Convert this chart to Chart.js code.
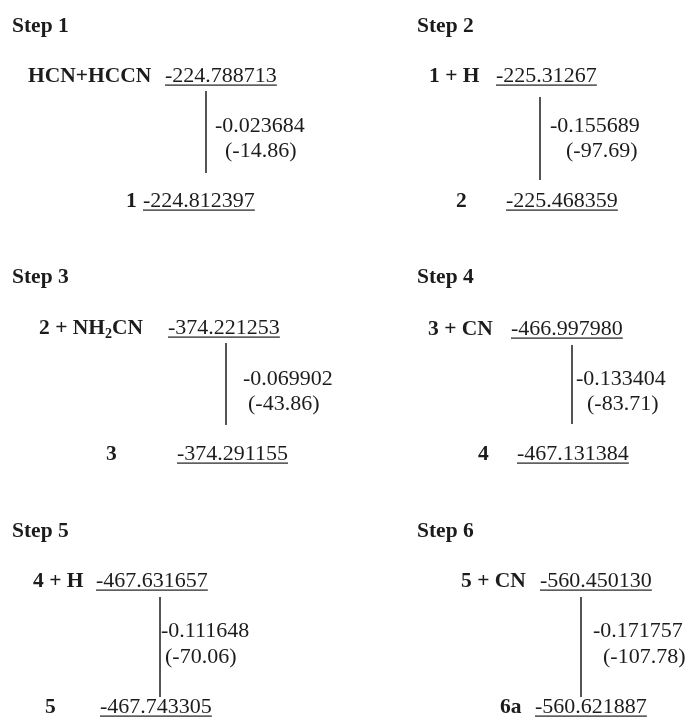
<!DOCTYPE html>
<html>
<head>
<meta charset="utf-8">
<script src="https://cdn.jsdelivr.net/npm/chart.js@4/dist/chart.umd.min.js"></script>
<style>
  html, body { margin: 0; padding: 0; background: #fff; }
  #wrap { position: relative; width: 687px; height: 717px; }
  canvas { display: block; }
</style>
</head>
<body>
<div id="wrap"><canvas id="c" width="687" height="717"></canvas></div>
<script>
// Reaction steps: total energies (hartree) before and after each step
const stepTitles = ['Step 1', 'Step 2', 'Step 3', 'Step 4', 'Step 5', 'Step 6'];
const reactantLabels = ['HCN+HCCN', '1 + H', '2 + NH_2CN', '3 + CN', '4 + H', '5 + CN'];
const productLabels = ['1', '2', '3', '4', '5', '6a'];
const reactantEnergy = [-224.788713, -225.31267, -374.221253, -466.997980, -467.631657, -560.450130];
const productEnergy = [-224.812397, -225.468359, -374.291155, -467.131384, -467.743305, -560.621887];
const reactantDecimals = [6, 5, 6, 6, 6, 6];
const productDecimals = [6, 6, 6, 6, 6, 6];
// reaction energies in kcal/mol
const deltaKcal = [-14.86, -97.69, -43.86, -83.71, -70.06, -107.78];

// Page layout (canvas pixels)
const W = 687, H = 717;
const titleX = [12, 417, 12, 417, 12, 417];
const titleY = [32, 32, 283, 283, 537, 537];
const reactLabelX = [28, 429, 39, 428, 33, 461];
const reactY = [82, 82, 334, 335, 587, 587];
const reactEnergyX = [165, 496, 168, 511, 96, 540];
const lineX = [206, 540, 226, 572, 160, 581];
const lineTop = [91, 97, 343, 345, 597, 597];
const lineBottom = [173, 180, 425, 424, 697, 697];
const deltaX = [215, 550, 243, 576, 161, 593];
const deltaY = [132, 132, 385, 385, 637, 637];
const kcalX = [225, 566, 248, 587, 165, 603];
const kcalY = [157, 157, 410, 410, 663, 663];
const prodLabelX = [126, 456, 106, 478, 45, 500];
const prodY = [207, 207, 460, 460, 713, 713];
const prodEnergyX = [143, 506, 177, 517, 100, 535];

const INK = '#1c1c1c';
const BOLD_SIZE = 21.5;
const TEXT_SIZE = 22;
const FAMILY = '"Liberation Serif", "Times New Roman", serif';

// one hidden energy axis per step, scaled so each step's levels sit at its line ends
const scales = { x: { type: 'linear', min: 0, max: W, display: false } };
const datasets = [];
stepTitles.forEach((t, i) => {
  const er = reactantEnergy[i], ep = productEnergy[i];
  const perPx = (er - ep) / (lineBottom[i] - lineTop[i]);
  scales['y' + i] = {
    type: 'linear', display: false,
    min: ep - (H - lineBottom[i]) * perPx,
    max: er + lineTop[i] * perPx
  };
  datasets.push({
    label: t,
    data: [{ x: lineX[i], y: er }, { x: lineX[i], y: ep }],
    xAxisID: 'x', yAxisID: 'y' + i,
    showLine: true, borderColor: INK, borderWidth: 1.5,
    pointRadius: 0, pointHoverRadius: 0, clip: false
  });
});

function drawLabel(ctx, text, x, y) {
  // bold label; "_c" marks a single subscript character
  const base = 'bold ' + BOLD_SIZE + 'px ' + FAMILY;
  const sub = 'bold ' + Math.round(BOLD_SIZE * 0.65) + 'px ' + FAMILY;
  let cx = x;
  text.split(/(_.)/).forEach(p => {
    if (!p) return;
    if (p[0] === '_' && p.length === 2) {
      ctx.font = sub;
      ctx.fillText(p[1], cx, y + 4);
      cx += ctx.measureText(p[1]).width;
    } else {
      ctx.font = base;
      ctx.fillText(p, cx, y);
      cx += ctx.measureText(p).width;
    }
  });
}

function drawUnderlined(ctx, text, x, y) {
  ctx.font = TEXT_SIZE + 'px ' + FAMILY;
  ctx.fillText(text, x, y);
  const w = ctx.measureText(text).width;
  ctx.fillRect(x, y + 2.5, w, 1.2);
}

const textPlugin = {
  id: 'stepText',
  afterDatasetsDraw(chart) {
    const ctx = chart.ctx;
    ctx.save();
    ctx.fillStyle = INK;
    ctx.textBaseline = 'alphabetic';
    ctx.textAlign = 'left';
    stepTitles.forEach((t, i) => {
      drawLabel(ctx, t, titleX[i], titleY[i]);
      drawLabel(ctx, reactantLabels[i], reactLabelX[i], reactY[i]);
      drawUnderlined(ctx, reactantEnergy[i].toFixed(reactantDecimals[i]), reactEnergyX[i], reactY[i]);
      ctx.font = TEXT_SIZE + 'px ' + FAMILY;
      ctx.fillText((productEnergy[i] - reactantEnergy[i]).toFixed(6), deltaX[i], deltaY[i]);
      ctx.fillText('(' + deltaKcal[i].toFixed(2) + ')', kcalX[i], kcalY[i]);
      drawLabel(ctx, productLabels[i], prodLabelX[i], prodY[i]);
      drawUnderlined(ctx, productEnergy[i].toFixed(productDecimals[i]), prodEnergyX[i], prodY[i]);
    });
    ctx.restore();
  }
};

new Chart(document.getElementById('c'), {
  type: 'scatter',
  data: { datasets },
  options: {
    responsive: false,
    animation: false,
    devicePixelRatio: 1,
    layout: { padding: 0 },
    scales,
    plugins: { legend: { display: false }, tooltip: { enabled: false } },
    events: []
  },
  plugins: [textPlugin]
});
</script>
</body>
</html>
